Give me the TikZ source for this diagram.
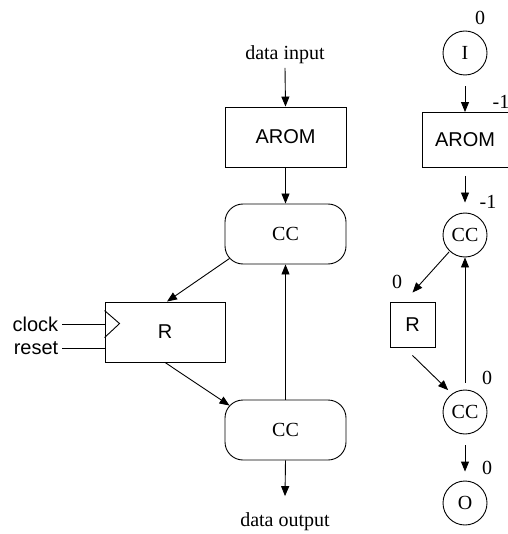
\documentclass[tikz,border=0pt]{standalone}
\usepackage{fontspec}
\setmainfont{Liberation Serif}
\setsansfont{Liberation Sans}
\usetikzlibrary{arrows.meta}

\newcommand{\figsize}{\fontsize{20}{24}\selectfont}

\tikzset{
  block/.style={draw, rectangle, font=\sffamily\figsize, inner sep=0pt},
  ccbox/.style={draw, rounded corners=18pt, minimum width=121pt, minimum height=60pt},
  bubble/.style={draw, circle, minimum size=44pt, inner sep=0pt},
  arr/.style={-{Triangle[length=10pt,width=8pt]}},
}

\begin{document}
\begin{tikzpicture}[x=1pt, y=-1pt, line width=0.9pt, font=\figsize]
        \useasboundingbox (0,0) rectangle (507,534);

        % left: the circuit
        \node (din) at (285,55) {data input};
        \node[block, minimum width=121pt, minimum height=60pt] (arom1) at (285.5,137) {AROM};
        \node[ccbox] (cc1) at (285.5,234) {CC};
        \node[block, minimum width=120pt, minimum height=60pt] (r1) at (165,332) {R};
        \node[ccbox] (cc2) at (285.5,430) {CC};
        \node (dout) at (285,522) {data output};
        \node[anchor=east, font=\sffamily\figsize] (clk) at (62,324) {clock};
        \node[anchor=east, font=\sffamily\figsize] (rst) at (62,348) {reset};

        \draw ([shift={(0,9)}]r1.north west) -- ++(15,13) -- ++(-15,14);
        \draw (clk.east) -- (clk -| r1.west);
        \draw (rst.east) -- (rst -| r1.west);

        \draw[arr] (din.south) -- (arom1.north);
        \draw[arr] (arom1.south) -- (cc1.north);
        \draw[arr] ([shift={(5,-6)}]cc1.south west) -- ([xshift=2pt]r1.north);
        \draw[arr] (r1.south) -- ([shift={(5,6)}]cc2.north west);
        \draw[arr] (cc2.north) -- (cc1.south);
        \draw[arr] (cc2.south) -- ([yshift=13pt]dout.north);

        % right: the graph
        \node[bubble] (in) at (465,53) {I};
        \node[block, minimum width=86pt, minimum height=55pt] (arom2) at (465,140) {AROM};
        \node[bubble] (cc3) at (465,235) {CC};
        \node[block, minimum size=45pt] (r2) at (412.5,324.5) {R};
        \node[bubble] (cc4) at (465,412) {CC};
        \node[bubble] (out) at (465,503) {O};

        \draw[arr] ([yshift=-11pt]in.south) -- (arom2.north);
        \draw[arr] ([yshift=-8pt]arom2.south) -- ([yshift=10pt]cc3.north);
        \draw[arr] ([shift={(0,1)}]cc3.south west) -- ([yshift=9pt]r2.north);
        \draw[arr] ([yshift=-8pt]r2.south) -- ([shift={(-1,-6)}]cc4.north west);
        \draw[arr] ([yshift=7pt]cc4.north) -- (cc3.south);
        \draw[arr] ([yshift=-11pt]cc4.south) -- ([yshift=9pt]out.north);

        \node (w1) at (480,18) {0};
        \node (w2) at (501,102) {-1};
        \node (w3) at (488,202) {-1};
        \node (w4) at (397,282) {0};
        \node (w5) at (487,378) {0};
        \node (w6) at (487,468) {0};
\end{tikzpicture}
\end{document}
